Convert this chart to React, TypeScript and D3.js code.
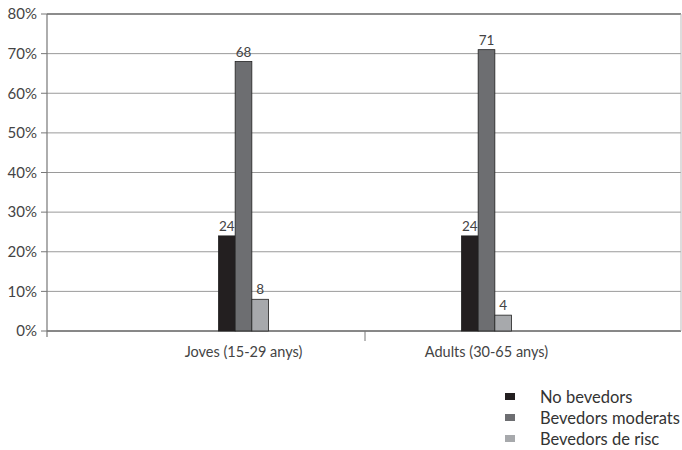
import React from "react";
import * as d3 from "d3";

const categories = ["Joves (15-29 anys)", "Adults (30-65 anys)"];
const seriesNames = ["No bevedors", "Bevedors moderats", "Bevedors de risc"];
const noBevedors = [24, 24];
const bevedorsModerats = [68, 71];
const bevedorsRisc = [8, 4];
const yTicks = [0, 10, 20, 30, 40, 50, 60, 70, 80];

const seriesValues = [noBevedors, bevedorsModerats, bevedorsRisc];
const colors = ["#231f20", "#6d6e71", "#a7a9ac"];
const font = "Lato, 'Open Sans', sans-serif";

export default function App() {
  const W = 682;
  const H = 450;
  const left = 47;
  const right = 681;
  const top = 14;
  const bottom = 331;

  const y = d3.scaleLinear().domain([0, 80]).range([bottom, top]);
  const x = d3.scaleBand().domain(categories).range([122, 608]);
  const xs = d3
    .scaleBand()
    .domain(seriesNames)
    .range([0, x.bandwidth()])
    .paddingInner(0)
    .paddingOuter(5.78);

  const divider = x(categories[1]) as number;

  return (
    <svg width={W} height={H} style={{ position: "absolute", left: 0, top: 0, fontFamily: font }}>
      <rect width={W} height={H} fill="#fff" />
      {/* gridlines */}
      {yTicks.map((t) => (
        <line
          key={t}
          x1={left}
          x2={right}
          y1={y(t)}
          y2={y(t)}
          stroke={t === 80 ? "#666" : t === 0 ? "#111" : "#9a9a9a"}
          strokeWidth={t === 80 ? 1.6 : 1}
        />
      ))}
      {/* right border */}
      <line x1={right} x2={right} y1={top} y2={bottom} stroke="#bbb" />
      {/* y axis */}
      <line x1={left} x2={left} y1={top} y2={bottom + 6} stroke="#777" strokeWidth={1.2} />
      {yTicks.map((t) => (
        <g key={"yt" + t}>
          <line x1={left - 6} x2={left} y1={y(t)} y2={y(t)} stroke="#777" />
          <text x={37} y={y(t)} dy="0.35em" textAnchor="end" fontSize={15} fill="#444">
            {t}%
          </text>
        </g>
      ))}
      {/* category divider tick */}
      <line x1={divider} x2={divider} y1={bottom} y2={bottom + 10} stroke="#777" />
      {categories.map((c) => (
        <text
          key={c}
          x={(x(c) as number) + x.bandwidth() / 2}
          y={357}
          textAnchor="middle"
          fontSize={14.5}
          fill="#444"
        >
          {c}
        </text>
      ))}
      {/* bars */}
      {categories.map((c, ci) => (
        <g key={"g" + c} transform={`translate(${x(c)},0)`}>
          {seriesNames.map((s, si) => {
            const v = seriesValues[si][ci];
            const bx = xs(s) as number;
            return (
              <g key={s}>
                <rect
                  x={bx}
                  y={y(v)}
                  width={xs.bandwidth()}
                  height={bottom - y(v)}
                  fill={colors[si]}
                  stroke="#222"
                  strokeWidth={0.8}
                />
                <text
                  x={bx + xs.bandwidth() / 2}
                  y={y(v) - 5}
                  textAnchor="middle"
                  fontSize={13.5}
                  fill="#444"
                >
                  {v}
                </text>
              </g>
            );
          })}
        </g>
      ))}
      {/* legend */}
      {seriesNames.map((s, i) => (
        <g key={"l" + s} transform={`translate(505,${397 + i * 21})`}>
          <rect x={0} y={-4} width={10} height={7} fill={colors[i]} />
          <text x={35} y={0} dy="0.35em" fontSize={16.5} fill="#333">
            {s}
          </text>
        </g>
      ))}
    </svg>
  );
}
